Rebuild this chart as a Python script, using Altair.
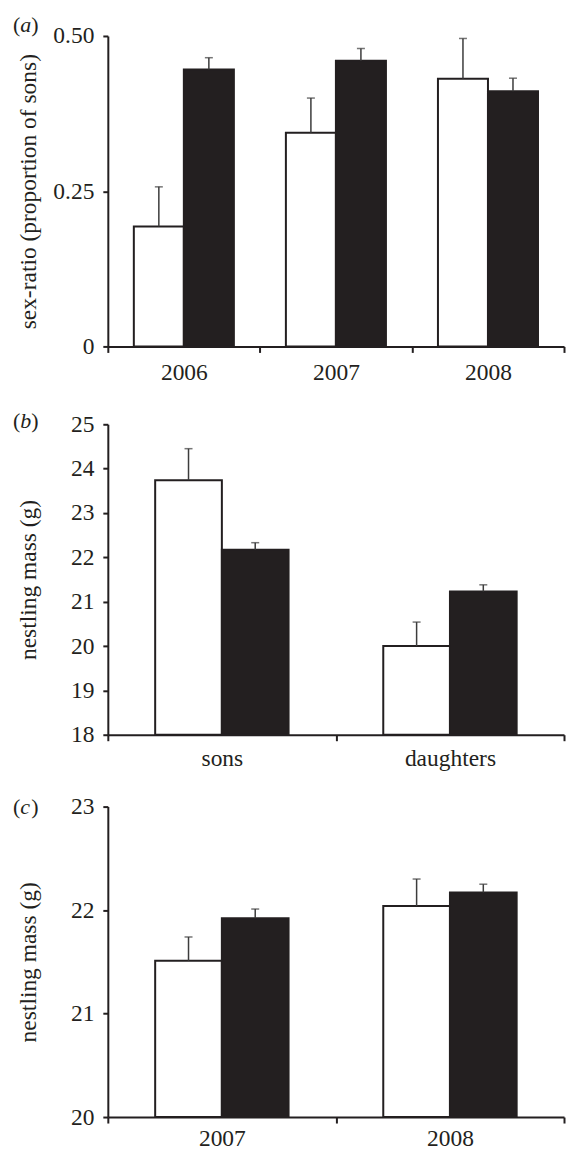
import altair as alt
import pandas as pd

FONT = "Liberation Serif, Times New Roman, Times, Tinos, Nimbus Roman, FreeSerif, Noto Serif, DejaVu Serif, serif"
INK = "#231f20"
ERR = "#3c3c3c"

# ---------------- data ----------------
groups = ["open", "filled"]

# panel (a): sex-ratio by year
a_cats = ["2006", "2007", "2008"]
a_open = [0.193, 0.344, 0.431]
a_open_se = [0.064, 0.056, 0.065]
a_filled = [0.446, 0.460, 0.411]
a_filled_se = [0.019, 0.020, 0.021]

# panel (b): nestling mass by sex
b_cats = ["sons", "daughters"]
b_open = [23.74, 20.00]
b_open_se = [0.71, 0.54]
b_filled = [22.17, 21.23]
b_filled_se = [0.16, 0.15]

# panel (c): nestling mass by year
c_cats = ["2007", "2008"]
c_open = [21.51, 22.04]
c_open_se = [0.23, 0.26]
c_filled = [21.92, 22.17]
c_filled_se = [0.09, 0.08]

a_ticks = [0, 0.25, 0.5]
b_ticks = [18, 19, 20, 21, 22, 23, 24, 25]
c_ticks = [20, 21, 22, 23]

W = 457
H = 311
FS = 23.5


def frame(cats, op, op_se, fi, fi_se):
    rows = []
    for i, c in enumerate(cats):
        rows.append(dict(cat=c, grp="open", mean=op[i], upper=op[i] + op_se[i]))
        rows.append(dict(cat=c, grp="filled", mean=fi[i], upper=fi[i] + fi_se[i]))
    return pd.DataFrame(rows)


one = pd.DataFrame({"k": [0]})


def panel(df, cats, ticks, ytitle, letter, letter_y, top_ext, bot_ext,
          off_pad, label_pad, label_expr):
    ydom = [ticks[0], ticks[-1]]
    x = alt.X("cat:N", sort=cats,
              scale=alt.Scale(paddingInner=0, paddingOuter=0),
              axis=alt.Axis(title=None, tickBand="extent", labelAngle=0,
                            labelPadding=label_pad, tickSize=6))
    xo = alt.XOffset("grp:N", sort=groups,
                     scale=alt.Scale(paddingInner=0, paddingOuter=off_pad))
    yscale = alt.Scale(domain=ydom, nice=False, zero=False)
    yaxis = alt.Axis(values=ticks, title=ytitle, titleX=-79,
                     titleBaseline="middle", labelExpr=label_expr,
                     tickSize=5, labelPadding=9)
    y = alt.Y("mean:Q", scale=yscale, axis=yaxis)
    yup = alt.Y("upper:Q", scale=yscale, axis=yaxis)
    fill = alt.Fill("grp:N", scale=alt.Scale(domain=groups, range=["#ffffff", INK]),
                    legend=None)

    bars = alt.Chart(df).mark_bar(stroke=INK, strokeWidth=2).encode(
        x=x, xOffset=xo, y=y, y2=alt.datum(ydom[0]), fill=fill)
    err = alt.Chart(df).mark_rule(color=ERR, strokeWidth=1.5).encode(
        x=x, xOffset=xo, y=y, y2="upper:Q")
    cap = alt.Chart(df).mark_tick(color=ERR, size=8, thickness=1.5).encode(
        x=x, xOffset=xo, y=yup)

    lx = -95
    lab1 = alt.Chart(one).mark_text(text="(", font=FONT, fontSize=22, color=INK,
                                    align="left", baseline="middle").encode(
        x=alt.value(lx), y=alt.value(letter_y))
    lab2 = alt.Chart(one).mark_text(text=letter, font=FONT, fontSize=22, color=INK,
                                    fontStyle="italic", align="left",
                                    baseline="middle").encode(
        x=alt.value(lx + 7.3), y=alt.value(letter_y))
    lab3 = alt.Chart(one).mark_text(text=")", font=FONT, fontSize=22, color=INK,
                                    align="left", baseline="middle").encode(
        x=alt.value(lx + 18.3), y=alt.value(letter_y))

    # invisible guides fixing the panel's outer extent
    g_top = alt.Chart(one).mark_rule(opacity=0).encode(
        x=alt.value(-99), x2=alt.value(W), y=alt.value(-top_ext))
    g_bot = alt.Chart(one).mark_rule(opacity=0).encode(
        x=alt.value(-99), x2=alt.value(W), y=alt.value(H + bot_ext))

    return alt.layer(bars, err, cap, lab1, lab2, lab3, g_top, g_bot).properties(
        width=W, height=H)


pa = panel(frame(a_cats, a_open, a_open_se, a_filled, a_filled_se), a_cats, a_ticks,
           "sex-ratio (proportion of sons)", "a", -11, 26, 40, 0.52, 8.6,
           "datum.value == 0 ? '0' : format(datum.value, '.2f')")
pb = panel(frame(b_cats, b_open, b_open_se, b_filled, b_filled_se), b_cats, b_ticks,
           "nestling mass (g)", "b", -3, 36, 40, 0.71, 5.7,
           "format(datum.value, 'd')")
pc = panel(frame(c_cats, c_open, c_open_se, c_filled, c_filled_se), c_cats, c_ticks,
           "nestling mass (g)", "c", 0, 30.5, 20, 0.71, 4,
           "format(datum.value, 'd')")

chart = alt.vconcat(pa, pb, pc, spacing=0).resolve_scale(
    x="independent", y="independent", xOffset="independent", fill="independent"
).properties(
    padding={"left": 0, "top": 0, "right": 0, "bottom": 0}
).configure_view(stroke="transparent").configure_axis(
    grid=False,
    domainColor=INK, domainWidth=2,
    tickColor=INK, tickWidth=2,
    labelFont=FONT, labelFontSize=FS, labelColor=INK,
    titleFont=FONT, titleFontSize=FS, titleFontWeight="normal", titleColor=INK,
)

chart.save("out.html", embed_options={"renderer": "svg", "actions": False})
